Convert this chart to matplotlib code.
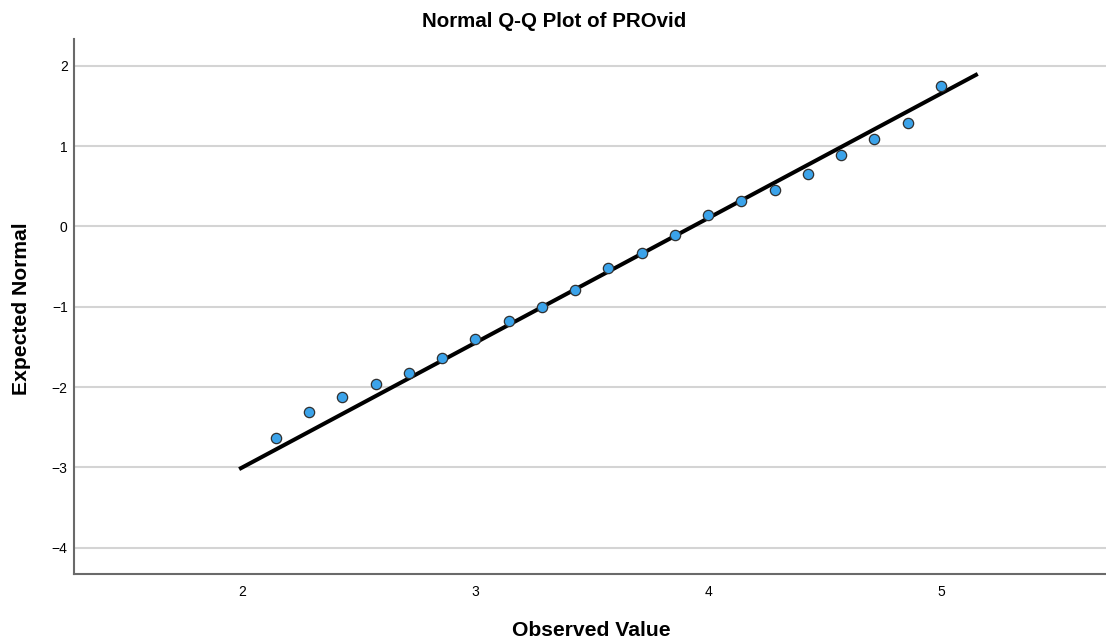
import matplotlib.pyplot as plt
import numpy as np

plt.rcParams["font.family"] = ["Liberation Sans", "DejaVu Sans"]

# observed PROvid scores (steps of 1/7) and their expected normal quantiles
observed = np.array([15, 16, 17, 18, 19, 20, 21, 22, 23, 24, 25,
                     26, 27, 28, 29, 30, 31, 32, 33, 34, 35]) / 7.0
expected = np.array([-2.64, -2.31, -2.12, -1.96, -1.83, -1.64, -1.40,
                     -1.18, -1.00, -0.79, -0.52, -0.33, -0.11, 0.14,
                     0.32, 0.45, 0.65, 0.89, 1.09, 1.29, 1.75])

# reference line of the fitted normal
mean_val = 3.934
sd_val = 0.645
line_x = np.array([1.985, 5.158])

x_ticks = [2, 3, 4, 5]
y_ticks = [-4, -3, -2, -1, 0, 1, 2]

fig = plt.figure(figsize=(11.06, 6.44), dpi=100)
ax = fig.add_axes([0.0672, 0.1087, 0.9328, 0.8307])

ax.set_xlim(1.277, 5.709)
ax.set_ylim(-4.327, 2.332)

ax.grid(axis="y", color="#d4d4d4", linewidth=1.5)
ax.set_axisbelow(True)

ax.plot(line_x, (line_x - mean_val) / sd_val, color="black", linewidth=2.9,
        solid_capstyle="butt", zorder=3)
ax.scatter(observed, expected, s=55, color="#3ba3ea", edgecolor="#303030",
           linewidth=0.9, zorder=4)

ax.set_xticks(x_ticks)
ax.set_yticks(y_ticks)
ax.set_yticklabels(["\u22124", "\u22123", "\u22122", "\u22121", "0", "1", "2"])
ax.tick_params(length=0, labelsize=10, colors="black")
ax.tick_params(axis="x", pad=8)
ax.tick_params(axis="y", pad=4.8)

for side in ["top", "right"]:
    ax.spines[side].set_visible(False)
for side in ["left", "bottom"]:
    ax.spines[side].set_color("#6a6a6a")
    ax.spines[side].set_linewidth(1.5)

fig.text(0.501, 0.967, "Normal Q-Q Plot of PROvid", ha="center", va="center",
         fontsize=14.8, fontweight="bold")
fig.text(0.535, 0.0217, "Observed Value", ha="center", va="center",
         fontsize=15.2, fontweight="bold")
fig.text(0.019, 0.52, "Expected Normal", ha="center", va="center",
         fontsize=15.2, fontweight="bold", rotation=90)

fig.savefig("out.png", dpi=100)
plt.close(fig)
